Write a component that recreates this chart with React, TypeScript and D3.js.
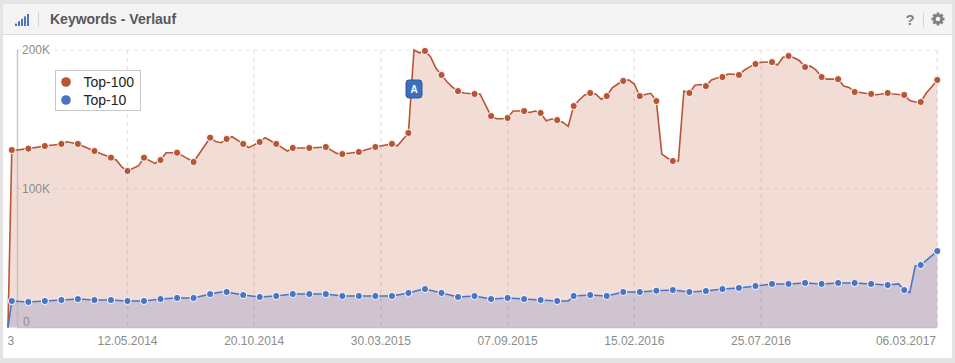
import React from "react";
import * as d3 from "d3";

const width = 955;
const height = 363;

// Weeks counted from 16.12.2013; a marker sits on every third week.
const startDate = new Date(2013, 11, 16);
const markerStep = 3;

const yTicks = [0, 100, 200];
const tickDates = ["12.05.2014", "20.10.2014", "30.03.2015", "07.09.2015", "15.02.2016", "25.07.2016"];
const firstLabel = "3";
const lastLabel = "06.03.2017";

// Values in thousands of keywords, one per marker.
const top100Markers = [
  127.9, 128.9, 130.8, 132.3, 132.3, 127.2, 122.4, 112.8, 122.4, 120.7, 126, 119.3, 136.8, 135.9, 132.3, 133.7, 132.3,
  129.4, 129.4, 130.1, 125, 126.5, 130.1, 132.3, 140.2, 199.3, 182, 170.4, 168.3, 152.4, 151, 156, 154.6, 149.5, 159.6,
  169, 166.8, 177.7, 166.8, 163.2, 120, 169, 174, 180.5, 182, 189.9, 191.3, 195.7, 187.7, 180.5, 179, 169.7, 168.3,
  169, 167.6, 162.5, 178.4,
];
const top10Markers = [
  19.1, 18.4, 19.1, 19.8, 20.5, 19.8, 19.8, 19.1, 19.1, 20.5, 21.3, 21.3, 24.1, 25.6, 23.4, 22, 22.7, 24.1, 24.1, 24.1,
  22.7, 22.7, 22.7, 22.7, 24.9, 27.7, 24.9, 22, 22.7, 20.5, 21.3, 20.5, 19.8, 19.1, 22.7, 23.4, 22.7, 25.6, 25.6, 26.5,
  27, 25.6, 26.3, 27.7, 28.5, 29.9, 31.4, 31.4, 32.1, 31.4, 32.1, 32.1, 31.4, 30.6, 27, 45, 55.1,
];

// Line vertices between the markers: [week, value].
const top100Between: [number, number][] = [
  [-0.7, 0], [1, 127.9], [10, 133.9], [16, 125.6], [19, 120.6], [20, 115.5], [23, 116.6], [26, 118.3], [28, 126],
  [37, 134], [38, 133.2], [40, 137.5], [43, 129.6], [46, 136.8], [50, 127.2], [59, 125.5], [64, 127.8], [70, 131],
  [73, 200], [74, 198], [76, 195.2], [77, 186.8], [79, 177.1], [80, 173.3], [82, 169], [85, 168.3], [86, 160.3],
  [88, 150.5], [89, 150.5], [91, 156], [92, 156], [94, 155], [95, 156], [97, 149], [98, 150.3], [100, 148], [101, 145],
  [103, 164], [104, 167.6], [106, 168.3], [107, 164.5], [109, 172.8], [110, 175.5], [112, 178.4], [113, 175.5],
  [115, 167.9], [116, 168.8], [118, 125], [119, 122.2], [121, 120], [122, 170.4], [124, 174.6], [125, 175.1],
  [127, 178.4], [128, 179.8], [130, 182.7], [131, 182.5], [133, 185.6], [134, 188], [136, 191.1], [137, 191.3],
  [139, 189.2], [140, 194.8], [142, 194.4], [143, 192.3], [145, 188.4], [146, 185.6], [148, 179], [149, 179],
  [151, 174], [152, 173], [154, 169.4], [155, 168.8], [157, 167.8], [160, 168.3], [161, 167.9], [163, 163.6],
  [164, 162.5], [166, 169], [167, 173.5],
];
const top10Between: [number, number][] = [
  [-0.7, 0], [38, 25.6], [74, 27], [101, 19.1], [161, 31.4], [163, 25.1], [164, 44.3],
];

const red = "#b85535";
const blue = "#4a74c4";

const parseDE = d3.timeParse("%d.%m.%Y");
const weekDate = (w: number) => new Date(startDate.getTime() + w * 7 * 864e5);

const merge = (markers: number[], between: [number, number][]) =>
  [...markers.map((v, i) => [i * markerStep, v] as [number, number]), ...between].sort((a, b) => a[0] - b[0]);

const x = d3
  .scaleTime()
  .domain([parseDE("12.05.2014") as Date, parseDE("25.07.2016") as Date])
  .range([127.5, 761]);
const y = d3.scaleLinear().domain([0, 200]).range([327.5, 50]);

const lineGen = d3
  .line<[number, number]>()
  .x((d) => x(weekDate(d[0])))
  .y((d) => y(d[1]));
const areaGen = d3
  .area<[number, number]>()
  .x((d) => x(weekDate(d[0])))
  .y0(y(0))
  .y1((d) => y(d[1]));

const series = [
  { name: "Top-100", color: red, fill: "rgba(196,100,70,0.22)", markers: top100Markers, between: top100Between },
  { name: "Top-10", color: blue, fill: "rgba(74,100,190,0.2)", markers: top10Markers, between: top10Between },
];

const rightEdge = x(weekDate(168));
const labelFont = "Arial, 'Liberation Sans', sans-serif";
const gearAngles = d3.range(0, 360, 45);
const gridColor = "#e7e4e4";

export default function App() {
  return (
    <svg
      width={width}
      height={height}
      style={{ position: "absolute", left: 0, top: 0, display: "block" }}
      fontFamily={labelFont}
    >
      <rect width={width} height={height} fill="#e4e4e4" />
      <rect x={3} y={4} width={949} height={354} fill="#ffffff" />
      <rect x={3} y={4} width={949} height={30} fill="#f4f4f4" />
      <line x1={3} x2={952} y1={34.5} y2={34.5} stroke="#dcdcdc" />

      {/* header */}
      {[0, 1, 2, 3, 4].map((i) => (
        <rect key={i} x={15 + i * 3} y={26 - (i + 1) * 2.4} width={2} height={(i + 1) * 2.4} fill="#4a74c4" />
      ))}
      <line x1={38.5} x2={38.5} y1={12} y2={27} stroke="#d5d5d5" />
      <text x={50} y={24} fontSize={14} fontWeight={700} fill="#55585c">
        Keywords - Verlauf
      </text>
      <text x={910} y={25} fontSize={15} fontWeight={700} fill="#808080" textAnchor="middle">
        ?
      </text>
      <line x1={923.5} x2={923.5} y1={12} y2={27} stroke="#d5d5d5" />
      <g transform="translate(938,19)" fill="#808080">
        {gearAngles.map((a) => (
          <rect key={a} x={-1.4} y={-6.5} width={2.8} height={3} transform={`rotate(${a})`} />
        ))}
        <circle r={3.6} fill="none" stroke="#808080" strokeWidth={2.6} />
      </g>

      {/* grid */}
      {yTicks
        .filter((t) => t > 0)
        .map((t) => (
          <g key={t} stroke={gridColor} strokeWidth={1.2} strokeDasharray="4 4">
            <line x1={17} x2={22} y1={y(t)} y2={y(t)} />
            <line x1={54} x2={rightEdge} y1={y(t)} y2={y(t)} />
          </g>
        ))}
      {tickDates.map((t) => (
        <line
          key={t}
          x1={x(parseDE(t) as Date)}
          x2={x(parseDE(t) as Date)}
          y1={50}
          y2={327}
          stroke={gridColor}
          strokeWidth={1.4}
          strokeDasharray="4 4"
        />
      ))}
      <line x1={rightEdge} x2={rightEdge} y1={50} y2={327} stroke={gridColor} strokeWidth={1.4} strokeDasharray="4 4" />

      {/* areas and lines */}
      {series.map((s) => (
        <path key={s.name} d={areaGen(merge(s.markers, s.between)) as string} fill={s.fill} />
      ))}
      <line x1={17.5} x2={17.5} y1={50} y2={327} stroke="#b9b9b9" strokeWidth={1.5} opacity={0.75} />
      <line x1={17} x2={rightEdge} y1={327.5} y2={327.5} stroke="#c4c0c6" strokeWidth={1.5} />
      {series.map((s) => (
        <g key={s.name}>
          <path d={lineGen(merge(s.markers, s.between)) as string} fill="none" stroke={s.color} strokeWidth={1.6} />
          {s.markers.map((v, i) => (
            <circle
              key={i}
              cx={x(weekDate(i * markerStep))}
              cy={y(v)}
              r={3.6}
              fill={s.color}
              stroke="#ffffff"
              strokeWidth={1}
            />
          ))}
        </g>
      ))}

      {/* y labels */}
      {yTicks.map((t) => (
        <text
          key={t}
          x={t === 0 ? 23 : 22}
          y={t === 0 ? y(t) - 2 : y(t) + 4}
          fontSize={12}
          fill="#8c8c8c"
        >
          {t === 0 ? "0" : `${t}K`}
        </text>
      ))}

      {/* x labels */}
      <text x={7.5} y={345} fontSize={12} fill="#8c8c8c">
        {firstLabel}
      </text>
      {tickDates.map((t) => (
        <text key={t} x={x(parseDE(t) as Date)} y={345} fontSize={12} fill="#8c8c8c" textAnchor="middle">
          {t}
        </text>
      ))}
      <text x={936} y={345} fontSize={12} fill="#8c8c8c" textAnchor="end">
        {lastLabel}
      </text>

      {/* event flag */}
      <rect x={406} y={80} width={16} height={18} rx={3} fill="#3b6fbe" stroke="#2a5a9e" />
      <text x={414} y={93} fontSize={10} fontWeight={700} fill="#ffffff" textAnchor="middle">
        A
      </text>

      {/* legend */}
      <rect x={55.5} y={70.5} width={85} height={40} fill="#ffffff" stroke="#c8c8c8" />
      {series.map((s, i) => (
        <g key={s.name}>
          <circle cx={66} cy={82 + i * 18} r={4.8} fill={s.color} />
          <text x={83.5} y={87 + i * 18} fontSize={14} fill="#222222">
            {s.name}
          </text>
        </g>
      ))}
    </svg>
  );
}
